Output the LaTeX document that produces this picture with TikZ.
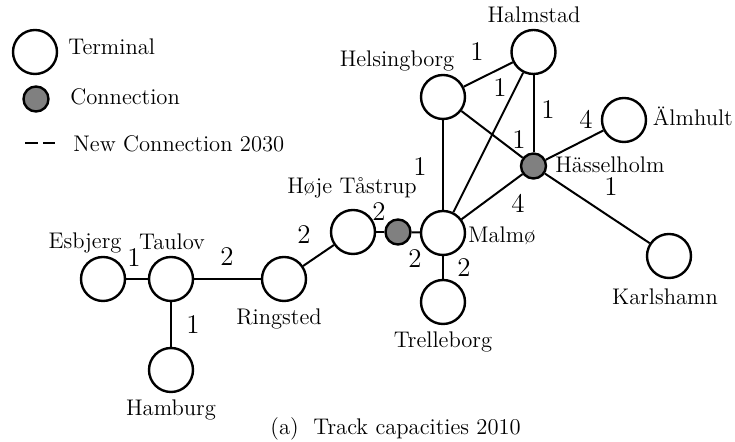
\documentclass[tikz,border=0pt]{standalone}
\begin{document}
\begin{tikzpicture}[x=0.5pt,y=-0.5pt,font=\fontsize{11.3}{13}\selectfont,
  term/.style={circle,draw,line width=1.2pt,minimum size=22pt,inner sep=0pt,fill=white},
  conn/.style={circle,draw,line width=1.2pt,minimum size=12.5pt,inner sep=0pt,fill=black!50},
  track/.style={line width=1pt},
  lbl/.style={inner sep=0pt},
  capl/.style={inner sep=0pt,font=\fontsize{13.5}{15}\selectfont}]
\useasboundingbox (0,0) rectangle (735,442);
% legend
\node[term] (legT) at (35,52) {};
\node[lbl,anchor=base west] (legTt) at (68,55) {Terminal};
\node[conn] (legC) at (36,99) {};
\node[lbl,anchor=base west] (legCt) at (70,105) {Connection};
\coordinate (legDa) at (25,143);
\coordinate (legDb) at (55,143);
\draw[track,dash pattern=on 6.5pt off 2.5pt] (legDa) -- (legDb);
\node[lbl,anchor=base west] (legDt) at (73,151.5) {New Connection 2030};
% nodes
\node[term] (esb) at (103,279) {};
\node[term] (tau) at (171,279) {};
\node[term] (ham) at (171,370) {};
\node[term] (rin) at (284,279) {};
\node[term] (hoj) at (353,232) {};
\node[conn] (cph) at (398,232) {};
\node[term] (mal) at (443,233) {};
\node[term] (tre) at (443,302) {};
\node[term] (hel) at (443,97) {};
\node[term] (hal) at (533.5,52) {};
\node[conn] (has) at (533.5,166) {};
\node[term] (alm) at (624,120) {};
\node[term] (kar) at (669,256) {};
% tracks
\draw[track] (esb) -- (tau);
\draw[track] (tau) -- (rin);
\draw[track] (tau) -- (ham);
\draw[track] (rin) -- (hoj);
\draw[track] (hoj) -- (cph);
\draw[track] (cph) -- (mal);
\draw[track] (mal) -- (tre);
\draw[track] (mal) -- (hel);
\draw[track] (mal) -- (hal);
\draw[track] (mal) -- (has);
\draw[track] (hel) -- (hal);
\draw[track] (hel) -- (has);
\draw[track] (hal) -- (has);
\draw[track] (has) -- (alm);
\draw[track] (has) -- (kar);
% node names
\node[lbl,anchor=base] (tEsb) at (85,249) {Esbjerg};
\node[lbl,anchor=base] (tTau) at (172,250) {Taulov};
\node[lbl,anchor=base] (tHam) at (171,415.5) {Hamburg};
\node[lbl,anchor=base] (tRin) at (279,325) {Ringsted};
\node[lbl,anchor=base] (tHoj) at (352,194) {Høje Tåstrup};
\node[lbl,anchor=base west] (tMal) at (468,243) {Malmø};
\node[lbl,anchor=base] (tTre) at (443,348) {Trelleborg};
\node[lbl,anchor=base] (tHel) at (397,67) {Helsingborg};
\node[lbl,anchor=base] (tHal) at (534,23) {Halmstad};
\node[lbl,anchor=base west] (tHas) at (555,172.5) {Hässelholm};
\node[lbl,anchor=base west] (tAlm) at (652.5,125.5) {Älmhult};
\node[lbl,anchor=base] (tKar) at (665,305) {Karlshamn};
% capacities
\node[capl] (c1) at (134,258) {1};
\node[capl] (c2) at (227,257) {2};
\node[capl] (c3) at (193,325) {1};
\node[capl] (c4) at (304,235) {2};
\node[capl] (c5) at (379,212) {2};
\node[capl] (c6) at (415,259) {2};
\node[capl] (c7) at (464,268) {2};
\node[capl] (c8) at (420,167) {1};
\node[capl] (c9) at (477,52) {1};
\node[capl] (c10) at (500,88) {1};
\node[capl] (c11) at (548,110) {1};
\node[capl] (c12) at (519,140) {1};
\node[capl] (c13) at (518,203) {4};
\node[capl] (c14) at (586,119) {4};
\node[capl] (c15) at (611,187) {1};
% caption
\node[lbl,anchor=base west] (caption) at (270,435) {(a)\ \ Track capacities 2010};
\end{tikzpicture}
\end{document}
